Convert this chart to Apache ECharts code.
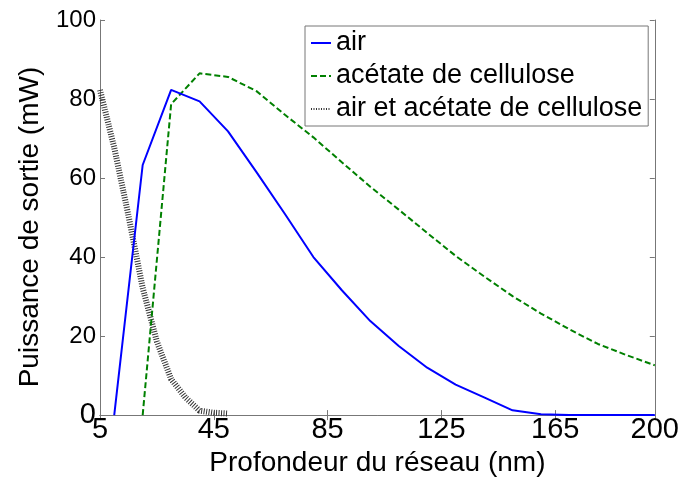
<!DOCTYPE html>
<html>
<head>
<meta charset="utf-8">
<script src="https://cdn.jsdelivr.net/npm/echarts@6/dist/echarts.min.js"></script>
<style>
html,body{margin:0;padding:0;background:#fff;overflow:hidden;}
#chart{width:682px;height:482px;}
</style>
</head>
<body>
<div id="chart"></div>
<script>
// ---- data ----
const xTicks = [5, 45, 85, 125, 165, 200];
const yTicks = [0, 20, 40, 60, 80, 100];

const airX = [10, 20, 30, 40, 50, 60, 70, 80, 90, 100, 110, 120, 130, 140, 150, 160, 170, 180, 190, 200];
const airY = [0, 63.3, 82.3, 79.4, 71.8, 61.5, 50.9, 40, 31.6, 23.8, 17.5, 12, 7.7, 4.5, 1.2, 0.2, 0, 0, 0, 0];

const caX = [20, 30, 40, 50, 60, 70, 80, 90, 100, 110, 120, 130, 140, 150, 160, 170, 180, 190, 200];
const caY = [0, 78.7, 86.5, 85.6, 82, 76, 70.3, 64, 57.8, 52, 46.1, 40.3, 35.1, 30.1, 25.7, 21.7, 18, 15.2, 12.6];

const bothX = [5, 10, 15, 20, 25, 30, 35, 40, 45, 50];
const bothY = [82.3, 67.7, 50.5, 32.2, 18.6, 9.1, 4.5, 1.1, 0.6, 0.4];

const seriesNames = ['air', 'acétate de cellulose', 'air et acétate de cellulose'];
const xName = 'Profondeur du réseau (nm)';
const yName = 'Puissance de sortie (mW)';

function pairs(xs, ys) { return xs.map((x, i) => [x, ys[i]]); }

const FONT = 'Liberation Sans, Arial, sans-serif';
const AXIS_COLOR = '#777777';

const chart = echarts.init(document.getElementById('chart'), null, { renderer: 'canvas', width: 682, height: 482 });

const commonLine = { show: true, lineStyle: { color: AXIS_COLOR, width: 1 } };

chart.setOption({
  animation: false,
  backgroundColor: '#ffffff',
  grid: { left: 100, top: 20, width: 555, height: 399, containLabel: false },
  legend: {
    orient: 'vertical',
    left: 305,
    top: 26,
    padding: [3, 6, 3, 5],
    itemGap: 5,
    itemWidth: 20,
    itemHeight: 14,
    backgroundColor: '#ffffff',
    borderColor: AXIS_COLOR,
    borderWidth: 1,
    borderRadius: 0,
    itemStyle: { opacity: 0 },
    textStyle: { fontFamily: FONT, fontSize: 27, color: '#000', lineHeight: 28 },
    data: seriesNames
  },
  xAxis: [{
    type: 'value',
    min: 5, max: 200,
    name: xName,
    nameLocation: 'middle',
    nameGap: 27,
    nameTextStyle: { fontFamily: FONT, fontSize: 28, color: '#000' },
    axisLine: commonLine,
    axisTick: { show: true, inside: true, length: 5, customValues: xTicks, lineStyle: { color: AXIS_COLOR } },
    axisLabel: { show: true, customValues: xTicks, margin: 0, fontFamily: FONT, fontSize: 29, color: '#000' },
    splitLine: { show: false }
  }, {
    type: 'value',
    position: 'top',
    min: 5, max: 200,
    axisLine: commonLine,
    axisTick: { show: true, inside: true, length: 5, customValues: xTicks, lineStyle: { color: AXIS_COLOR } },
    axisLabel: { show: false },
    splitLine: { show: false }
  }],
  yAxis: [{
    type: 'value',
    min: 0, max: 100, interval: 20,
    name: yName,
    nameLocation: 'middle',
    nameGap: 56,
    nameTextStyle: { fontFamily: FONT, fontSize: 28, color: '#000', padding: [0, 19, 0, 0] },
    axisLine: commonLine,
    axisTick: { show: true, inside: true, length: 5, lineStyle: { color: AXIS_COLOR } },
    axisLabel: {
      show: true, margin: 4, fontFamily: FONT, fontSize: 24, color: '#000',
      formatter: function (v) { return v === 0 ? '{big|0}' : String(v); },
      rich: { big: { fontFamily: FONT, fontSize: 29, color: '#000' } }
    },
    splitLine: { show: false }
  }, {
    type: 'value',
    position: 'right',
    min: 0, max: 100, interval: 20,
    axisLine: commonLine,
    axisTick: { show: true, inside: true, length: 5, lineStyle: { color: AXIS_COLOR } },
    axisLabel: { show: false },
    splitLine: { show: false }
  }],
  series: [{
    name: seriesNames[0],
    type: 'line',
    data: pairs(airX, airY),
    showSymbol: false, symbol: 'none',
    lineStyle: { color: '#0000ff', width: 2 },
    itemStyle: { color: '#0000ff' },
    z: 3
  }, {
    name: seriesNames[1],
    type: 'line',
    data: pairs(caX, caY),
    showSymbol: false, symbol: 'none',
    lineStyle: { color: '#008000', width: 2, type: [6, 3] },
    itemStyle: { color: '#008000' },
    z: 2
  }, {
    name: seriesNames[2],
    type: 'line',
    data: pairs(bothX, bothY),
    showSymbol: false, symbol: 'none',
    lineStyle: { color: '#333333', width: 6, type: [1, 1.5], cap: 'butt' },
    itemStyle: { color: '#333333' },
    z: 1
  }]
});
</script>
</body>
</html>
